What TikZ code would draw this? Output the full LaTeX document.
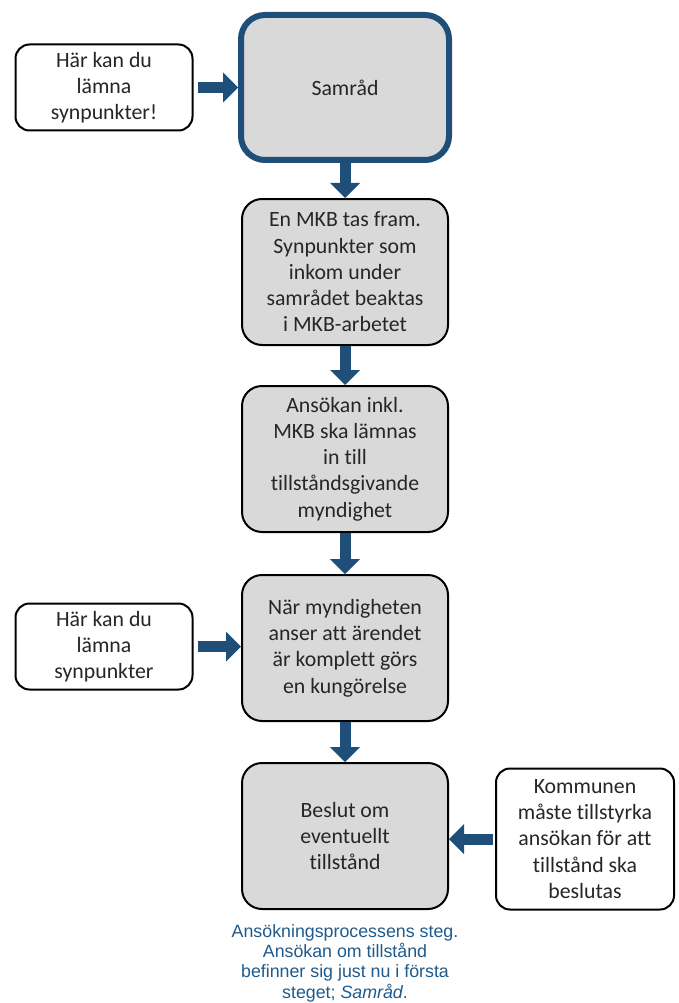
\documentclass[tikz,border=0pt]{standalone}
\usepackage{fontspec}
\setmainfont{Carlito}[Ligatures=NoCommon]
\newfontfamily\captionfont{Liberation Sans}
\usetikzlibrary{arrows.meta}
\definecolor{stepgray}{HTML}{D9D9D9}
\definecolor{darkblue}{HTML}{1F4E79}
\definecolor{captionblue}{RGB}{31,90,140}
\tikzset{
  boxtext/.style={align=center, text=black!85, font=\fontsize{21.8}{26.2}\selectfont},
  stepbox/.style={boxtext, draw, line width=2pt, fill=stepgray, rounded corners=20pt,
    minimum width=206pt, minimum height=146pt},
  notebox/.style={boxtext, draw, line width=2pt, fill=white, rounded corners=14pt},
  blockarrow/.style={draw=darkblue, line width=11pt,
    -{Triangle[width=30pt,length=15pt,line width=0pt]}}
}

\begin{document}
\begin{tikzpicture}[x=1pt,y=-1pt]
  \useasboundingbox (0,0) rectangle (679,1003);

  \node[stepbox, draw=darkblue, line width=6pt, rounded corners=24pt,
        minimum width=208pt, minimum height=145pt] (samrad) at (345,87.5) {Samråd};
  \node[stepbox] (mkb) at (345,272) {En MKB tas fram.\\ Synpunkter som\\ inkom under\\ samrådet beaktas\\ i MKB-arbetet};
  \node[stepbox] (ansokan) at (345,459) {Ansökan inkl.\\ MKB ska lämnas\\ in till\\ tillståndsgivande\\ myndighet};
  \node[stepbox] (kungorelse) at (345,648) {När myndigheten\\ anser att ärendet\\ är komplett görs\\ en kungörelse};
  \node[stepbox] (beslut) at (345,836) {Beslut om\\ eventuellt\\ tillstånd};

  \node[notebox, minimum width=177pt, minimum height=86pt] (synp1) at (104,87.5) {Här kan du\\ lämna\\ synpunkter!};
  \node[notebox, minimum width=177pt, minimum height=86pt] (synp2) at (104,646.5) {Här kan du\\ lämna\\ synpunkter};
  \node[notebox, minimum width=178pt, minimum height=141pt] (kommun) at (585,839) {Kommunen\\ måste tillstyrka\\ ansökan för att\\ tillstånd ska\\ beslutas};

  \draw[blockarrow] (samrad) -- (mkb);
  \draw[blockarrow] (mkb) -- (ansokan);
  \draw[blockarrow] (ansokan) -- (kungorelse);
  \draw[blockarrow] (kungorelse) -- (beslut);
  \draw[blockarrow, shorten <=4pt] (synp1) -- (samrad);
  \draw[blockarrow, shorten <=4pt] (synp2) -- (synp2 -| kungorelse.west);
  \draw[blockarrow, shorten <=2pt] (kommun) -- (kommun -| beslut.east);

  \node[font=\captionfont\fontsize{17.8}{20.3}\selectfont, text=captionblue, align=center]
    (caption) at (345,963) {Ansökningsprocessens steg.\\ Ansökan om tillstånd\\ befinner sig just nu i första\\ steget; \textit{Samråd}.};
\end{tikzpicture}
\end{document}
